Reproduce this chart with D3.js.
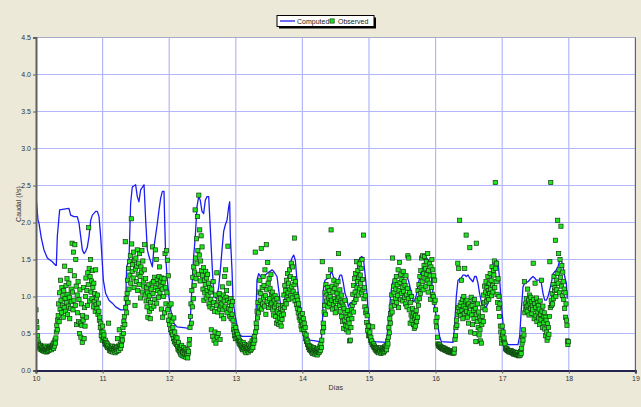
<!DOCTYPE html>
<html>
<head>
<meta charset="utf-8">
<script src="https://cdn.jsdelivr.net/npm/d3@7"></script>
<style>
  html, body { margin: 0; padding: 0; background: #ECE9D8; }
  svg { display: block; }
  text { font-family: "Liberation Sans", Arial, sans-serif; }
</style>
</head>
<body>
<svg id="chart" width="641" height="407"></svg>
<script>
// Computed discharge (l/s): time in days and flow
const computedDay = [
  10.000, 10.030, 10.045, 10.080, 10.120, 10.170, 10.245, 10.295, 10.305, 10.320, 10.355, 10.420, 10.495, 10.520, 10.570, 10.620,
  10.646, 10.671, 10.696, 10.721, 10.746, 10.771, 10.796, 10.821, 10.846, 10.896, 10.921, 10.946, 10.971, 10.996, 11.011, 11.046,
  11.096, 11.146, 11.196, 11.271, 11.321, 11.346, 11.361, 11.396, 11.421, 11.446, 11.496, 11.521, 11.546, 11.571, 11.622, 11.647,
  11.672, 11.697, 11.747, 11.772, 11.822, 11.847, 11.872, 11.897, 11.922, 11.932, 11.947, 11.972, 11.997, 12.020, 12.042, 12.067,
  12.117, 12.217, 12.292, 12.317, 12.342, 12.367, 12.392, 12.417, 12.442, 12.467, 12.492, 12.517, 12.542, 12.568, 12.593, 12.618,
  12.643, 12.668, 12.693, 12.718, 12.743, 12.768, 12.793, 12.818, 12.843, 12.868, 12.893, 12.908, 12.918, 12.943, 12.958, 12.993,
  13.043, 13.093, 13.268, 13.293, 13.308, 13.318, 13.343, 13.368, 13.418, 13.468, 13.544, 13.569, 13.619, 13.644, 13.669, 13.694,
  13.719, 13.744, 13.769, 13.794, 13.819, 13.844, 13.869, 13.894, 13.919, 13.944, 13.969, 13.994,
  14.014, 14.039, 14.064, 14.114, 14.264, 14.289, 14.304, 14.314, 14.339, 14.389, 14.439, 14.464, 14.489, 14.514, 14.539, 14.565,
  14.590, 14.615, 14.640, 14.665, 14.690, 14.715, 14.765, 14.790, 14.815, 14.825, 14.840, 14.865, 14.890, 14.915, 14.940, 14.965,
  14.990, 15.015, 15.040, 15.090, 15.265, 15.280, 15.300, 15.315, 15.340, 15.365, 15.415, 15.465, 15.490, 15.515, 15.556, 15.591,
  15.641, 15.666, 15.691, 15.716, 15.741, 15.776, 15.816, 15.841, 15.866, 15.891, 15.916, 15.941, 15.966, 15.991,
  16.011, 16.036, 16.061, 16.086, 16.261, 16.276, 16.291, 16.311, 16.336, 16.386, 16.411, 16.436, 16.461, 16.486, 16.511, 16.561,
  16.586, 16.611, 16.636, 16.661, 16.686, 16.712, 16.737, 16.762, 16.787, 16.812, 16.837, 16.862, 16.887, 16.912, 16.937, 16.962,
  16.987, 17.012, 17.037, 17.062, 17.087, 17.237, 17.262, 17.287, 17.302, 17.312, 17.337, 17.387, 17.437, 17.462, 17.487, 17.512,
  17.553, 17.588, 17.613, 17.638, 17.663, 17.688, 17.713, 17.738, 17.763, 17.813, 17.838, 17.863, 17.888, 17.913, 17.938, 17.963, 17.978
];
const computedFlow = [
  2.36, 2.03, 1.99, 1.79, 1.63, 1.52, 1.47, 1.42, 1.42, 1.81, 2.17, 2.18, 2.19, 2.10, 2.08, 2.08,
  1.99, 1.81, 1.63, 1.58, 1.61, 1.67, 1.81, 2.03, 2.10, 2.15, 2.15, 2.08, 1.81, 1.45, 1.22, 1.04,
  0.95, 0.91, 0.86, 0.82, 0.82, 0.91, 1.40, 1.49, 2.26, 2.48, 2.51, 2.35, 2.28, 2.44, 2.51, 2.03,
  1.63, 1.54, 1.40, 1.67, 1.99, 2.17, 2.33, 2.42, 2.42, 2.03, 1.54, 1.22, 1.00, 0.84, 0.73, 0.64,
  0.59, 0.58, 0.57, 0.68, 1.13, 1.54, 1.81, 2.21, 2.35, 2.30, 2.15, 2.12, 2.30, 2.35, 2.35, 1.90,
  1.45, 1.04, 0.98, 1.00, 1.13, 1.36, 1.63, 1.88, 1.97, 2.03, 2.21, 2.28, 1.81, 1.36, 0.95, 0.73,
  0.50, 0.46, 0.46, 0.55, 0.91, 1.22, 1.31, 1.27, 1.27, 1.31, 1.36, 1.34, 1.27, 1.09, 0.91, 0.89,
  0.91, 1.00, 1.22, 1.31, 1.45, 1.52, 1.56, 1.49, 1.22, 1.00, 0.86, 0.73,
  0.64, 0.50, 0.46, 0.41, 0.39, 0.46, 0.73, 1.09, 1.22, 1.25, 1.34, 1.27, 1.22, 1.18, 1.22, 1.29,
  1.29, 1.18, 1.04, 0.98, 0.86, 0.91, 0.93, 1.04, 1.22, 1.36, 1.47, 1.52, 1.54, 1.52, 1.31, 1.09,
  0.77, 0.55, 0.41, 0.39, 0.38, 0.55, 0.73, 0.91, 1.13, 1.22, 1.29, 1.31, 1.27, 1.29, 1.29, 1.22,
  1.04, 0.93, 0.95, 1.04, 1.18, 1.31, 1.40, 1.49, 1.52, 1.49, 1.43, 1.22, 1.00, 0.82,
  0.73, 0.59, 0.46, 0.39, 0.38, 0.50, 0.68, 1.00, 1.22, 1.25, 1.29, 1.29, 1.27, 1.29, 1.25, 1.20,
  1.27, 1.27, 1.18, 1.04, 0.93, 0.82, 0.86, 0.86, 0.91, 1.00, 1.27, 1.45, 1.49, 1.49, 1.47, 1.22,
  0.91, 0.64, 0.46, 0.37, 0.35, 0.35, 0.46, 0.82, 1.00, 1.13, 1.18, 1.20, 1.25, 1.27, 1.25, 1.22,
  1.22, 1.18, 1.04, 0.95, 0.95, 1.00, 1.09, 1.18, 1.31, 1.36, 1.40, 1.49, 1.49, 1.40, 1.27, 1.18, 0.97
];

// Observed discharge (l/s), one reading every 10 minutes, one array per day
const obsDays = [10, 11, 12, 13, 14, 15, 16, 17];
const obsDay10 = [
  0.82,0.66,0.58,0.47,0.40,0.37, 0.35,0.31,0.33,0.29,0.34,0.30, 0.28,0.32,0.27,0.31,0.29,0.26, 0.30,0.27,0.33,0.28,0.25,0.29,
  0.31,0.26,0.28,0.30,0.27,0.32, 0.29,0.33,0.30,0.28,0.31,0.34, 0.32,0.36,0.30,0.38,0.33,0.41, 0.37,0.44,0.52,0.61,0.55,0.68,
  0.74,0.90,0.66,1.05,0.83,1.22, 0.95,0.78,1.12,0.88,1.01,0.72, 1.08,0.85,1.41,0.97,0.80,1.15, 0.92,1.24,0.76,1.03,0.87,1.18,
  0.99,0.70,1.35,0.84,1.10,0.93, 1.72,1.06,0.82,1.60,0.95,1.28, 1.70,0.88,1.50,1.14,0.62,1.02, 0.78,1.20,0.66,0.96,0.50,1.09,
  0.64,0.45,0.90,0.61,0.38,0.74, 0.68,1.12,0.43,0.85,0.60,1.00, 1.25,0.72,1.08,0.88,1.32,1.16, 1.93,1.38,0.94,1.27,1.50,1.06,
  1.21,0.97,1.35,1.12,0.86,1.18, 0.93,1.04,0.80,1.36,0.89,0.98, 0.84,1.02,0.76,0.91,0.80,0.68, 0.72,0.58,0.64,0.47,0.52,0.41
];
const obsDay11 = [
  0.60,0.52,0.44,0.48,0.39,0.36, 0.41,0.35,0.38,0.33,0.36,0.31, 0.34,0.64,0.30,0.27,0.32,0.29, 0.26,0.31,0.28,0.33,0.25,0.30,
  0.29,0.27,0.32,0.24,0.30,0.28, 0.31,0.26,0.43,0.29,0.33,0.27, 0.55,0.32,0.35,0.30,0.38,0.34, 0.47,0.41,0.58,0.50,0.66,0.73,
  0.62,1.74,0.85,0.97,0.78,1.04, 1.22,0.92,1.38,1.10,1.47,1.29, 1.55,1.18,2.05,1.71,1.34,1.43, 1.25,1.60,1.12,1.49,0.88,1.37,
  1.52,1.20,1.41,1.63,1.08,1.30, 1.45,1.16,1.58,1.27,0.98,1.40, 1.33,1.62,1.06,1.48,1.21,1.14, 1.36,1.70,1.02,1.24,0.94,1.12,
  0.86,1.05,0.72,0.95,1.16,0.80, 1.01,0.70,0.92,1.10,0.84,1.18, 1.67,1.04,1.20,0.87,1.26,0.96, 1.63,1.12,1.50,0.91,1.23,1.08,
  1.17,0.99,1.27,1.40,1.05,1.21, 1.14,0.83,1.25,1.10,0.72,1.19, 1.00,1.24,0.78,1.58,1.12,0.90, 1.62,1.05,1.49,0.82,1.28,0.68
];
const obsDay12 = [
  0.88,0.62,0.74,0.55,0.90,0.51, 0.66,0.48,0.58,0.43,0.71,0.39, 0.52,0.37,0.45,0.41,0.35,0.44, 0.33,0.29,0.38,0.27,0.31,0.25,
  0.30,0.22,0.28,0.34,0.20,0.26, 0.24,0.31,0.19,0.27,0.22,0.29, 0.18,0.25,0.21,0.28,0.17,0.23, 0.26,0.35,0.42,0.58,0.73,0.90,
  0.64,1.08,0.86,1.26,0.97,1.40, 1.15,1.33,2.17,1.52,1.24,1.78, 1.45,2.08,1.62,1.30,2.37,1.56, 1.90,1.21,1.48,1.82,1.35,1.67,
  1.28,1.10,1.39,0.95,1.22,1.05, 1.16,1.34,0.98,1.25,1.08,1.30, 1.02,1.18,0.90,1.12,0.86,1.06, 0.96,0.55,1.10,0.84,0.46,1.20,
  0.92,0.41,0.80,0.52,1.02,0.37, 0.88,1.32,0.45,0.79,0.50,0.95, 1.04,0.83,0.42,0.97,0.87,0.74, 0.90,1.13,0.82,1.02,0.70,0.94,
  1.27,0.86,1.36,0.99,1.08,0.78, 0.95,1.68,0.84,1.18,0.92,0.73, 0.82,0.97,0.70,0.88,0.76,0.93, 0.68,0.55,0.61,0.47,0.52,0.43
];
const obsDay13 = [
  0.58,0.47,0.52,0.43,0.49,0.40, 0.44,0.37,0.41,0.35,0.39,0.33, 0.36,0.30,0.34,0.28,0.38,0.31, 0.29,0.35,0.26,0.32,0.24,0.30,
  0.33,0.27,0.31,0.25,0.34,0.28, 0.30,0.36,0.27,0.33,0.29,0.40, 0.35,0.31,0.43,0.37,0.46,0.41, 1.60,0.52,0.64,0.58,0.80,0.71,
  0.92,0.78,1.06,0.86,1.22,0.95, 1.04,1.65,0.83,1.12,0.90,1.27, 0.98,1.15,0.87,1.36,1.01,0.76, 1.70,1.09,0.93,1.46,1.18,0.85,
  1.24,0.97,1.11,0.89,1.30,1.03, 0.91,1.06,0.82,0.99,0.75,0.94, 0.86,1.01,0.73,0.90,0.64,0.97, 0.80,0.68,0.88,0.62,0.77,0.71,
  0.65,0.84,0.60,0.74,0.69,0.82, 0.88,0.76,1.02,0.85,1.15,0.93, 1.08,0.90,1.22,0.99,1.31,1.05, 1.18,0.96,1.36,1.10,1.27,1.01,
  1.45,1.13,0.98,1.40,1.07,1.24, 1.16,1.79,0.94,1.20,1.03,0.89, 1.00,0.84,0.95,0.78,0.90,0.72, 0.82,0.68,0.74,0.60,0.66,0.55
];
const obsDay14 = [
  0.77,0.62,0.70,0.55,0.64,0.50, 0.58,0.43,0.48,0.39,0.41,0.35, 0.37,0.31,0.34,0.28,0.33,0.29, 0.27,0.32,0.25,0.30,0.23,0.28,
  0.31,0.24,0.29,0.22,0.27,0.25, 0.23,0.28,0.21,0.30,0.26,0.24, 0.29,0.25,0.33,0.27,0.35,0.31, 0.41,1.47,0.52,0.64,0.58,0.79,
  0.88,1.05,0.76,1.16,0.94,1.02, 1.12,0.86,1.27,0.98,1.08,0.91, 1.00,1.36,1.90,0.95,1.14,0.83, 1.06,0.89,1.22,0.97,1.11,0.78,
  0.93,1.17,0.85,1.04,0.96,1.20, 1.58,0.99,0.88,1.09,0.80,0.94, 1.02,0.73,0.92,0.66,0.87,0.57, 0.84,0.68,0.95,0.61,0.78,0.55,
  0.72,0.60,0.81,0.52,0.69,0.64, 0.40,0.75,0.41,0.58,0.82,0.70, 0.88,1.03,0.79,1.15,0.92,1.24, 1.06,1.31,0.96,1.47,1.12,1.20,
  1.35,1.02,1.26,1.44,1.10,1.29, 1.18,1.38,1.05,1.50,1.23,1.09, 1.83,0.97,1.12,0.86,1.01,0.78, 0.82,0.65,0.74,0.54,0.61,0.47
];
const obsDay15 = [
  0.60,0.47,0.52,0.41,0.45,0.38, 0.40,0.35,0.59,0.33,0.36,0.31, 0.33,0.29,0.31,0.27,0.30,0.26, 0.28,0.25,0.30,0.24,0.27,0.29,
  0.26,0.31,0.23,0.28,0.25,0.30, 0.27,0.24,0.29,0.26,0.32,0.28, 0.30,0.34,0.28,0.33,0.40,0.36, 0.45,0.58,0.51,0.70,0.64,0.77,
  0.86,1.02,0.79,1.52,0.93,1.14, 1.05,0.88,1.21,0.97,1.10,1.27, 0.92,1.16,1.01,1.36,0.85,1.08, 1.46,1.19,0.96,1.30,1.04,1.23,
  1.12,0.94,1.34,1.07,1.20,0.99, 1.15,0.90,1.28,1.02,0.86,1.11, 1.55,0.97,1.52,0.82,1.05,0.64, 0.92,0.75,1.00,0.68,0.84,0.73,
  0.62,0.77,0.57,0.70,0.60,0.74, 0.81,0.66,0.95,0.72,1.08,0.88, 1.16,0.97,1.27,1.04,1.35,1.12, 1.52,1.20,1.55,1.09,1.31,1.42,
  1.54,1.25,1.38,1.14,1.47,1.30, 1.22,1.58,1.06,1.35,1.18,1.44, 1.28,0.96,1.40,1.12,1.50,1.03, 1.36,1.00,1.28,0.92,1.22,0.95
];
const obsDay16 = [
  0.82,0.66,0.59,0.72,0.45,0.36, 0.34,0.33,0.35,0.32,0.33,0.31, 0.32,0.30,0.31,0.29,0.31,0.30, 0.29,0.28,0.30,0.27,0.29,0.28,
  0.27,0.26,0.28,0.27,0.25,0.26, 0.27,0.25,0.26,0.24,0.25,0.26, 0.24,0.25,0.23,0.26,0.24,0.29, 0.42,0.47,0.58,0.68,0.61,0.76,
  1.45,0.85,1.38,0.79,2.03,0.88, 0.74,0.92,1.22,0.81,0.96,0.70, 0.87,1.00,0.77,1.38,0.84,0.93, 1.83,0.80,0.95,0.72,0.89,0.64,
  0.90,0.78,1.66,0.86,0.52,0.99, 0.75,0.88,0.62,0.94,0.81,0.70, 0.96,0.50,0.84,0.39,1.72,0.76, 0.66,0.90,0.58,0.79,0.48,0.71,
  0.55,0.40,0.68,0.37,0.62,0.73, 0.85,0.66,1.02,0.92,1.14,0.82, 1.06,1.20,0.94,1.12,0.99,1.27, 1.08,0.96,1.18,1.04,1.31,1.10,
  1.22,1.01,1.40,1.15,1.06,1.35, 1.29,1.48,1.12,2.54,1.38,1.20, 1.45,1.03,0.92,1.24,0.84,1.00, 0.73,0.90,0.60,0.52,0.44,0.37
];
const obsDay17 = [
  0.60,0.48,0.52,0.41,0.44,0.38, 0.36,0.30,0.29,0.28,0.30,0.27, 0.28,0.26,0.27,0.25,0.27,0.26, 0.25,0.27,0.24,0.26,0.25,0.23,
  0.24,0.22,0.25,0.23,0.24,0.22, 0.23,0.21,0.22,0.24,0.21,0.20, 0.22,0.20,0.24,0.21,0.26,0.23, 0.30,0.37,0.45,0.41,0.55,0.48,
  1.20,0.78,0.90,0.83,0.97,0.86, 0.80,1.10,0.88,0.95,0.75,1.02, 0.91,0.84,0.99,0.77,0.93,0.87, 0.82,1.45,0.96,0.70,0.90,1.18,
  0.85,0.74,0.98,0.66,0.92,0.79, 0.88,0.71,0.83,0.62,0.94,0.76, 0.69,1.22,0.80,0.58,0.87,0.73, 0.65,0.78,0.56,0.72,0.47,0.68,
  0.52,0.41,0.63,0.45,0.58,0.49, 0.73,1.47,0.85,2.54,0.95,0.88, 1.04,0.90,1.16,0.97,1.27,1.08, 1.12,1.76,1.00,1.22,1.09,1.31,
  2.03,1.18,1.58,1.36,1.05,1.50, 1.26,1.95,1.14,1.42,1.01,1.33, 1.20,0.96,1.10,0.84,1.05,0.72, 0.90,0.68,0.61,0.40,0.35,0.39
];
const observedByDay = [obsDay10, obsDay11, obsDay12, obsDay13, obsDay14, obsDay15, obsDay16, obsDay17];
const readingsPerDay = 144;

// Axis ticks and labels
const xTicks = [10, 11, 12, 13, 14, 15, 16, 17, 18, 19];
const yTicks = [0, 0.5, 1, 1.5, 2, 2.5, 3, 3.5, 4, 4.5];
const seriesNames = ["Computed", "Observed"];
const xTitle = "Días";
const yTitle = "Caudal (l/s)";

const svg = d3.select("#chart");
const W = 641, H = 407;
const plot = { left: 36, right: 635.4, top: 37.5, bottom: 370.5 };

const x = d3.scaleLinear().domain([10, 19]).range([plot.left, plot.right]);
const y = d3.scaleLinear().domain([0, 4.5]).range([plot.bottom, plot.top]);

// Window background
svg.append("rect").attr("width", W).attr("height", H).attr("fill", "#ECE9D8");

// Plot area
svg.append("rect")
  .attr("x", plot.left).attr("y", plot.top)
  .attr("width", plot.right - plot.left).attr("height", plot.bottom - plot.top)
  .attr("fill", "#ffffff");

// Grid
const grid = svg.append("g").attr("stroke", "#b4b6fb").attr("stroke-width", 1.2);
grid.selectAll("line.v").data(xTicks.slice(1)).join("line")
  .attr("x1", d => x(d)).attr("x2", d => x(d))
  .attr("y1", plot.top).attr("y2", plot.bottom);
grid.selectAll("line.h").data(yTicks.slice(1)).join("line")
  .attr("x1", plot.left).attr("x2", plot.right)
  .attr("y1", d => y(d)).attr("y2", d => y(d));

// Clip for series
svg.append("clipPath").attr("id", "plotClip").append("rect")
  .attr("x", plot.left).attr("y", plot.top)
  .attr("width", plot.right - plot.left).attr("height", plot.bottom - plot.top);

// Computed line
const computed = computedDay.map((d, i) => ({ t: d, v: computedFlow[i] }));
svg.append("path")
  .datum(computed)
  .attr("clip-path", "url(#plotClip)")
  .attr("fill", "none")
  .attr("stroke", "#1c1cf5")
  .attr("stroke-width", 1.3)
  .attr("stroke-linejoin", "round")
  .attr("d", d3.line().x(d => x(d.t)).y(d => y(d.v)));

// Observed points
const observed = [];
observedByDay.forEach((vals, k) => {
  vals.forEach((v, i) => observed.push({ t: obsDays[k] + i / readingsPerDay, v }));
});
const sq = 4.2;
svg.append("g").attr("clip-path", "url(#plotClip)")
  .selectAll("rect").data(observed).join("rect")
  .attr("x", d => x(d.t) - sq / 2)
  .attr("y", d => y(d.v) - sq / 2)
  .attr("width", sq).attr("height", sq)
  .attr("fill", "#1ee61e")
  .attr("stroke", "#123a12")
  .attr("stroke-width", 0.7);

// Frame
svg.append("line").attr("x1", plot.left).attr("x2", plot.right).attr("y1", plot.top).attr("y2", plot.top)
  .attr("stroke", "#a9a9c8").attr("stroke-width", 1);
svg.append("line").attr("x1", plot.right).attr("x2", plot.right).attr("y1", plot.top).attr("y2", plot.bottom)
  .attr("stroke", "#555566").attr("stroke-width", 1);

// Axes
const fmtY = d3.format(".1f");
const yAxis = svg.append("g").attr("transform", `translate(${plot.left},0)`)
  .call(d3.axisLeft(y).tickValues(yTicks).tickFormat(fmtY).tickSize(3).tickPadding(2));
const xAxis = svg.append("g").attr("transform", `translate(0,${plot.bottom})`)
  .call(d3.axisBottom(x).tickValues(xTicks).tickFormat(d3.format("d")).tickSize(3).tickPadding(3));

yAxis.select(".domain").attr("stroke", "#606060").attr("stroke-width", 2);
xAxis.select(".domain").attr("stroke", "#24244e").attr("stroke-width", 2);
[yAxis, xAxis].forEach(a => {
  a.selectAll(".tick line").attr("stroke", "#606060");
  a.selectAll(".tick text").attr("fill", "#333333")
    .style("font-size", "7px").style("font-family", "'Liberation Sans', Arial, sans-serif");
});

// Axis titles
svg.append("text")
  .attr("transform", `translate(21,${(plot.top + plot.bottom) / 2}) rotate(-90)`)
  .attr("text-anchor", "middle")
  .attr("fill", "#333333").style("font-size", "7px")
  .text(yTitle);
svg.append("text")
  .attr("x", (plot.left + plot.right) / 2).attr("y", 390)
  .attr("text-anchor", "middle")
  .attr("fill", "#333333").style("font-size", "7px")
  .text(xTitle);

// Legend
const lg = svg.append("g").attr("transform", "translate(277,15.5)");
lg.append("rect").attr("x", 2).attr("y", 2).attr("width", 97).attr("height", 11).attr("fill", "#000000");
lg.append("rect").attr("x", 0).attr("y", 0).attr("width", 97).attr("height", 11)
  .attr("fill", "#ffffff").attr("stroke", "#000000").attr("stroke-width", 1);
lg.append("line").attr("x1", 3).attr("x2", 18).attr("y1", 5.5).attr("y2", 5.5)
  .attr("stroke", "#1c1cf5").attr("stroke-width", 1.3);
lg.append("text").attr("x", 20).attr("y", 8).attr("fill", "#222222").style("font-size", "7px").text(seriesNames[0]);
lg.append("rect").attr("x", 53).attr("y", 3.4).attr("width", sq).attr("height", sq)
  .attr("fill", "#1ee61e").attr("stroke", "#123a12").attr("stroke-width", 0.7);
lg.append("text").attr("x", 61).attr("y", 8).attr("fill", "#222222").style("font-size", "7px").text(seriesNames[1]);
</script>
</body>
</html>
